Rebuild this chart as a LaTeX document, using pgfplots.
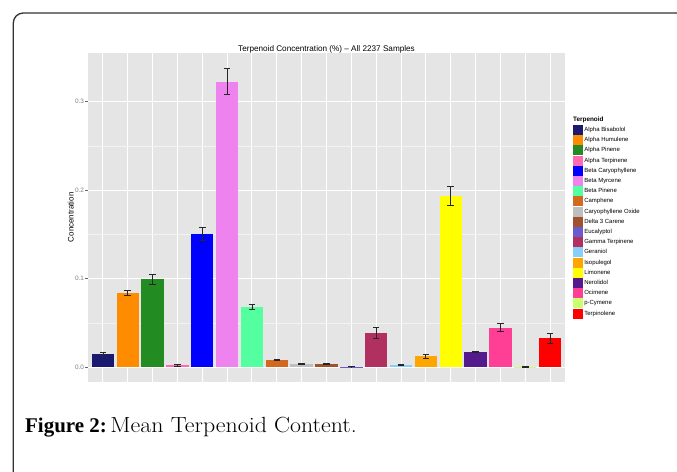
\documentclass[border=0pt]{standalone}
\usepackage{fontspec}
\setmainfont{Liberation Sans}
\newfontfamily\capbf{Liberation Serif}
\newfontfamily\lmr[FakeStretch=1.09]{Latin Modern Roman}
\usepackage{pgfplots}
\pgfplotsset{compat=1.18}
\definecolor{panelbg}{HTML}{E5E5E5}
\definecolor{minorgrid}{HTML}{F2F2F2}
\definecolor{tickgray}{HTML}{7F7F7F}
\definecolor{c1}{HTML}{191970}
\definecolor{c2}{HTML}{FF8C00}
\definecolor{c3}{HTML}{228B22}
\definecolor{c4}{HTML}{FF69B4}
\definecolor{c5}{HTML}{0000FF}
\definecolor{c6}{HTML}{EE82EE}
\definecolor{c7}{HTML}{54FF9F}
\definecolor{c8}{HTML}{D2691E}
\definecolor{c9}{HTML}{BEBEBE}
\definecolor{c10}{HTML}{A0522D}
\definecolor{c11}{HTML}{6A5ACD}
\definecolor{c12}{HTML}{B03060}
\definecolor{c13}{HTML}{87CEFA}
\definecolor{c14}{HTML}{FFA500}
\definecolor{c15}{HTML}{FFFF00}
\definecolor{c16}{HTML}{551A8B}
\definecolor{c17}{HTML}{FF3E96}
\definecolor{c18}{HTML}{CAFF70}
\definecolor{c19}{HTML}{FF0000}
\begin{document}
\begin{tikzpicture}
\useasboundingbox (0,-472bp) rectangle (677bp,0);
\fill[white] (0,-472bp) rectangle (677bp,0);
\draw[line width=1.3bp, black!80, rounded corners=10bp] (13.3bp,-520bp) -- (13.3bp,-13bp) -- (720bp,-13bp);
\begin{axis}[
  at={(88bp,-53bp)}, anchor=north west,
  width=477bp, height=328.7bp, scale only axis,
  xmin=-0.6, xmax=18.6, ymin=-0.01625, ymax=0.3547,
  axis background/.style={fill=panelbg},
  axis line style={draw=none},
  xtick={0,...,18}, xticklabels={},
  xtick style={draw=none},
  ytick={0,0.1,0.2,0.3},
  minor ytick={0.05,0.15,0.25},
  grid=both,
  major grid style={white, line width=1bp},
  minor grid style={minorgrid, line width=0.5bp},
  tick align=outside, tick pos=left,
  major tick length=3bp, minor tick length=0pt,
  ytick style={draw=black!60, line width=0.5bp},
  /pgf/number format/assume math mode=true,
  yticklabel style={/pgf/number format/.cd, fixed, fixed zerofill, precision=1, /tikz/.cd, inner sep=0.8bp},
  ticklabel style={font=\fontsize{6.4}{7}\selectfont, text=tickgray},
  title={Terpenoid Concentration (\%) – All 2237 Samples},
  every axis title shift=0pt,
  title style={at={(axis description cs:0.5,1.004)}, anchor=base, yshift=0pt, font=\fontsize{8.2}{9}\selectfont, inner sep=0pt},
  ylabel={Concentration},
  ylabel style={at={(axis description cs:-0.0363,0.5)}, anchor=center, font=\fontsize{8.0}{9}\selectfont, inner sep=0pt},
  mybar/.style={ybar, bar width=0.9, bar shift=0pt, draw=none,
    legend image code/.code={\fill[##1, draw=none] (0bp,-5bp) rectangle (10bp,5bp);},
    error bars/y dir=both, error bars/y explicit,
    error bars/error bar style={black!85, line width=0.8bp},
    error bars/error mark options={rotate=90, black!85, line width=0.8bp, mark size=3.3bp}},
  legend cell align=left,
  legend style={at={(axis description cs:1.0168,0.781)}, anchor=north west,
    draw=none, fill=none, inner sep=0pt, outer sep=0pt, row sep=0pt, column sep=0pt,
    font=\fontsize{6.0}{7}\selectfont,
    nodes={inner xsep=1.3bp, inner ysep=0pt, minimum height=10.2bp}},
]
\addplot[mybar, fill=c1]  coordinates {(0,0.0150) +- (0,0.0015)}; \addlegendentry{Alpha Bisabolol}
\addplot[mybar, fill=c2]  coordinates {(1,0.0838) +- (0,0.0032)}; \addlegendentry{Alpha Humulene}
\addplot[mybar, fill=c3]  coordinates {(2,0.0993) +- (0,0.0060)}; \addlegendentry{Alpha Pinene}
\addplot[mybar, fill=c4]  coordinates {(3,0.0024) +- (0,0.0009)}; \addlegendentry{Alpha Terpinene}
\addplot[mybar, fill=c5]  coordinates {(4,0.1506) +- (0,0.0075)}; \addlegendentry{Beta Caryophyllene}
\addplot[mybar, fill=c6]  coordinates {(5,0.3225) +- (0,0.0150)}; \addlegendentry{Beta Myrcene}
\addplot[mybar, fill=c7]  coordinates {(6,0.0685) +- (0,0.0030)}; \addlegendentry{Beta Pinene}
\addplot[mybar, fill=c8]  coordinates {(7,0.0082) +- (0,0.0007)}; \addlegendentry{Camphene}
\addplot[mybar, fill=c9]  coordinates {(8,0.0034) +- (0,0.0005)}; \addlegendentry{Caryophyllene Oxide}
\addplot[mybar, fill=c10] coordinates {(9,0.0037) +- (0,0.0006)}; \addlegendentry{Delta 3 Carene}
\addplot[mybar, fill=c11] coordinates {(10,0.0007) +- (0,0.0002)}; \addlegendentry{Eucalyptol}
\addplot[mybar, fill=c12] coordinates {(11,0.0385) +- (0,0.0060)}; \addlegendentry{Gamma Terpinene}
\addplot[mybar, fill=c13] coordinates {(12,0.0026) +- (0,0.0004)}; \addlegendentry{Geraniol}
\addplot[mybar, fill=c14] coordinates {(13,0.0122) +- (0,0.0025)}; \addlegendentry{Isopulegol}
\addplot[mybar, fill=c15] coordinates {(14,0.1935) +- (0,0.0105)}; \addlegendentry{Limonene}
\addplot[mybar, fill=c16] coordinates {(15,0.0177) +- (0,0.0008)}; \addlegendentry{Nerolidol}
\addplot[mybar, fill=c17] coordinates {(16,0.0448) +- (0,0.0048)}; \addlegendentry{Ocimene}
\addplot[mybar, fill=c18] coordinates {(17,0.0005) +- (0,0.0002)}; \addlegendentry{p{-}Cymene}
\addplot[mybar, fill=c19] coordinates {(18,0.0327) +- (0,0.0058)}; \addlegendentry{Terpinolene}
\end{axis}
\node[anchor=west, inner sep=0pt, font=\bfseries\fontsize{6.4}{7}\selectfont] at (573bp,-119.5bp) {Terpenoid};
\node[anchor=base west, inner sep=0pt] at (25bp,-432.3bp) {{\capbf\bfseries\fontsize{21}{22}\selectfont Figure 2:} {\lmr\fontsize{22}{23}\selectfont Mean Terpenoid Content.}};
\end{tikzpicture}
\end{document}
